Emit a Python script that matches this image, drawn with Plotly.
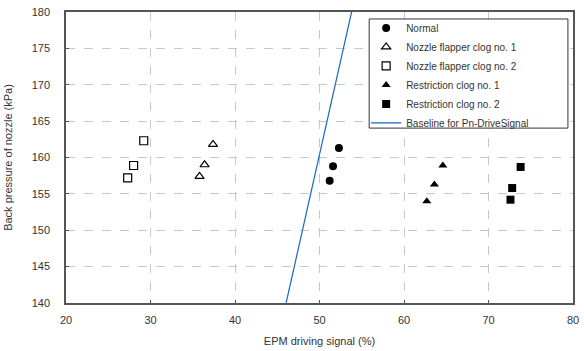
import plotly.graph_objects as go

normal_x = [52.3, 51.6, 51.2]
normal_y = [161.3, 158.8, 156.8]
nf1_x = [37.4, 36.4, 35.8]
nf1_y = [161.8, 159.0, 157.4]
nf2_x = [29.2, 28.0, 27.3]
nf2_y = [162.3, 158.9, 157.2]
rc1_x = [64.6, 63.6, 62.7]
rc1_y = [158.9, 156.3, 154.0]
rc2_x = [73.8, 72.8, 72.6]
rc2_y = [158.7, 155.8, 154.2]
base_x = [45.0, 55.0]
base_y = [134.6, 186.2]

x_ticks = [20, 30, 40, 50, 60, 70, 80]
y_ticks = [140, 145, 150, 155, 160, 165, 170, 175, 180]

fig = go.Figure()
fig.add_trace(go.Scatter(x=normal_x, y=normal_y, mode="markers", name="Normal",
                         marker=dict(symbol="circle", size=8, color="black")))
fig.add_trace(go.Scatter(x=nf1_x, y=nf1_y, mode="markers", name="Nozzle flapper clog no. 1",
                         marker=dict(symbol="triangle-up-open", size=8, color="black", line=dict(width=1.2))))
fig.add_trace(go.Scatter(x=nf2_x, y=nf2_y, mode="markers", name="Nozzle flapper clog no. 2",
                         marker=dict(symbol="square-open", size=8, color="black", line=dict(width=1.2))))
fig.add_trace(go.Scatter(x=rc1_x, y=rc1_y, mode="markers", name="Restriction clog no. 1",
                         marker=dict(symbol="triangle-up", size=8, color="black")))
fig.add_trace(go.Scatter(x=rc2_x, y=rc2_y, mode="markers", name="Restriction clog no. 2",
                         marker=dict(symbol="square", size=8, color="black")))
fig.add_trace(go.Scatter(x=base_x, y=base_y, mode="lines", name="Baseline for Pn-DriveSignal",
                         line=dict(color="#1a66c2", width=1.2)))

axis_common = dict(
    showgrid=True, gridcolor="#c8c8c8", griddash="dash", gridwidth=1,
    showline=True, linecolor="#555555", linewidth=1.5, mirror=True,
    ticks="inside", ticklen=3, tickcolor="#555555",
    tickfont=dict(family="Liberation Sans, Arial", size=11, color="#333333"),
    zeroline=False,
)

fig.update_layout(
    width=584, height=351,
    margin=dict(l=66, r=5, t=12, b=48),
    paper_bgcolor="white", plot_bgcolor="white",
    font=dict(family="Liberation Sans, Arial", size=11, color="#333333"),
    xaxis=dict(range=[20, 80], tickvals=x_ticks, ticklabelstandoff=6,
               title=dict(text="EPM driving signal (%)", font=dict(size=11), standoff=12),
               **axis_common),
    yaxis=dict(range=[140, 180], tickvals=y_ticks, ticklabelstandoff=12,
               title=dict(text="Back pressure of nozzle (kPa)", font=dict(size=11), standoff=17),
               **axis_common),
    legend=dict(x=0.592, y=0.995, xanchor="left", yanchor="top",
                bgcolor="rgba(0,0,0,0)", borderwidth=0,
                font=dict(size=10, color="#333333"), tracegroupgap=0, itemwidth=30),
    shapes=[dict(type="rect", xref="paper", yref="paper",
                 x0=0.598, x1=0.99, y0=0.601, y1=0.976,
                 line=dict(color="#333333", width=1), fillcolor="white", layer="above")],
    showlegend=True,
)

fig.write_html("out.html")
